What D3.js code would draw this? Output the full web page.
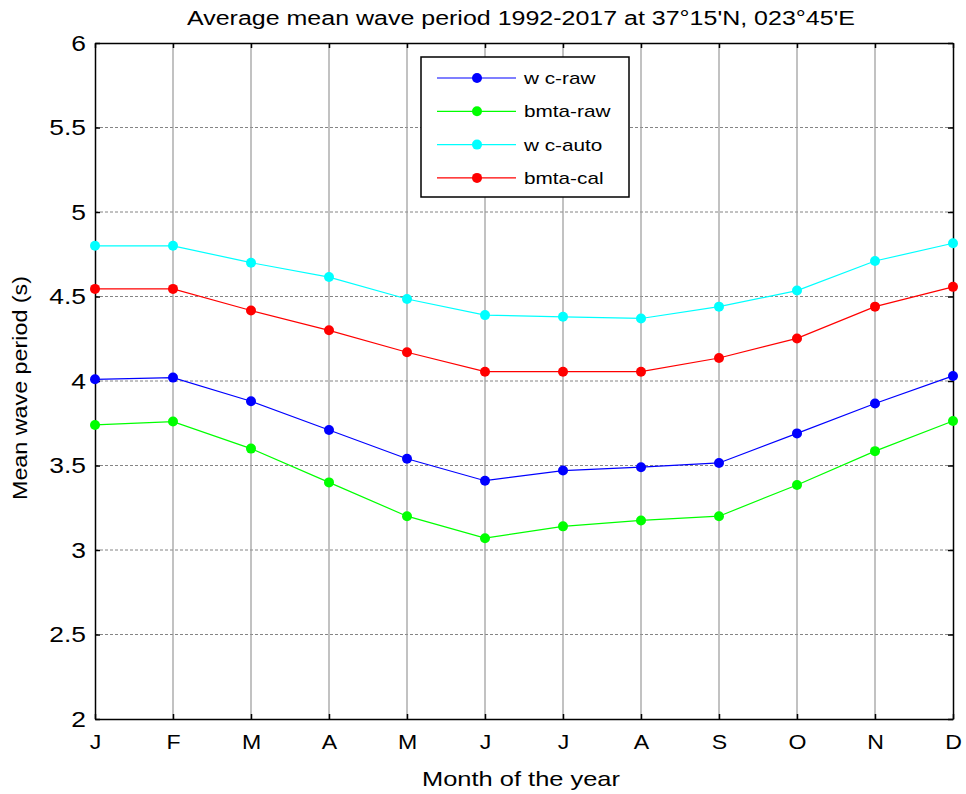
<!DOCTYPE html>
<html lang="en">
<head>
    <meta charset="UTF-8">
    <title>Average mean wave period</title>
    <script src="https://d3js.org/d3.v7.min.js"></script>
    <style>
        body { margin: 0; background: #fff; }
        text { font-family: "Liberation Sans", Arial, sans-serif; fill: #000; }
    </style>
</head>
<body>
    <div id="plot"></div>

    <script>
        // data
        let months = ['J', 'F', 'M', 'A', 'M', 'J', 'J', 'A', 'S', 'O', 'N', 'D'];
        let wcRaw   = [4.01, 4.02, 3.88, 3.71, 3.54, 3.41, 3.47, 3.49, 3.515, 3.69, 3.867, 4.03];
        let bmtaRaw = [3.74, 3.76, 3.60, 3.40, 3.20, 3.07, 3.14, 3.175, 3.20, 3.385, 3.585, 3.763];
        let wcAuto  = [4.80, 4.80, 4.70, 4.615, 4.485, 4.39, 4.38, 4.37, 4.44, 4.535, 4.71, 4.815];
        let bmtaCal = [4.545, 4.545, 4.417, 4.30, 4.17, 4.055, 4.055, 4.055, 4.136, 4.252, 4.44, 4.557];
        let yTicks = [2, 2.5, 3, 3.5, 4, 4.5, 5, 5.5, 6];

        let series = [
            {name: 'w c-raw', values: wcRaw, color: '#0000ff'},
            {name: 'bmta-raw', values: bmtaRaw, color: '#00ff00'},
            {name: 'w c-auto', values: wcAuto, color: '#00ffff'},
            {name: 'bmta-cal', values: bmtaCal, color: '#ff0000'}
        ];

        function translate(x, y){
            return 'translate(' + x + ', ' + y + ')';
        }

        // the original (matlab export) draws its text a bit wider than the font
        function stretch(sel, k){
            sel.each(function(){
                let len = this.getComputedTextLength();
                d3.select(this)
                    .attr('textLength', len * k)
                    .attr('lengthAdjust', 'spacingAndGlyphs');
            });
        }

        let svgWidth = 966, svgHeight = 794;
        let margin = {top: 43, right: 13, bottom: 75, left: 95};
        let width = svgWidth - margin.left - margin.right;
        let height = svgHeight - margin.top - margin.bottom;

        let svg = d3.select('#plot')
                    .append('svg')
                        .attr('width', svgWidth)
                        .attr('height', svgHeight);

        let g = svg.append('g').attr('transform', translate(margin.left, margin.top));

        let x = d3.scalePoint()
                    .domain(d3.range(months.length))
                    .range([0, width]);
        let y = d3.scaleLinear()
                    .domain([2, 6])
                    .range([height, 0]);

        // horizontal grid (dashed)
        g.append('g')
            .selectAll('line')
            .data(yTicks.slice(1, -1))
            .join('line')
                .attr('x1', 0).attr('x2', width)
                .attr('y1', d => y(d)).attr('y2', d => y(d))
                .attr('stroke', '#666')
                .attr('stroke-width', 0.8)
                .attr('stroke-dasharray', '3,2');

        // vertical grid (solid)
        g.append('g')
            .selectAll('line')
            .data(d3.range(1, months.length - 1))
            .join('line')
                .attr('x1', d => x(d)).attr('x2', d => x(d))
                .attr('y1', 0).attr('y2', height)
                .attr('stroke', '#999')
                .attr('stroke-width', 1.2);

        // axes, matlab style: ticks inside, on all four sides
        let xAxis = d3.axisBottom(x).tickFormat(i => months[i]).tickSizeInner(-5).tickSizeOuter(0).tickPadding(15);
        let yAxis = d3.axisLeft(y).tickValues(yTicks).tickFormat(d3.format('')).tickSizeInner(-5).tickSizeOuter(0).tickPadding(9);

        let gx = g.append('g').attr('transform', translate(0, height)).call(xAxis);
        let gy = g.append('g').call(yAxis);
        g.append('g').call(d3.axisTop(x).tickFormat('').tickSizeInner(-5).tickSizeOuter(0));
        g.append('g').attr('transform', translate(width, 0))
            .call(d3.axisRight(y).tickValues(yTicks).tickFormat('').tickSizeInner(-5).tickSizeOuter(0));

        g.selectAll('.domain').attr('stroke', '#000').attr('stroke-width', 1.5);
        g.selectAll('.tick line').attr('stroke', '#000').attr('stroke-width', 1.5);
        gx.selectAll('text').style('font-size', '21px').attr('fill', '#000').call(stretch, 1.1);
        gy.selectAll('text').style('font-size', '22px').attr('fill', '#000').call(stretch, 1.2);

        // series
        let line = d3.line()
                    .x((d, i) => x(i))
                    .y(d => y(d));

        series.forEach(function(s){
            g.append('path')
                .datum(s.values)
                .attr('fill', 'none')
                .attr('stroke', s.color)
                .attr('stroke-width', 1.2)
                .attr('d', line);
            g.selectAll(null)
                .data(s.values)
                .enter()
                .append('circle')
                .attr('r', 5)
                .attr('cx', (d, i) => x(i))
                .attr('cy', d => y(d))
                .attr('fill', s.color);
        });

        // legend
        let legend = svg.append('g').attr('transform', translate(421, 57));
        legend.append('rect')
            .attr('width', 208).attr('height', 140)
            .attr('fill', '#fff')
            .attr('stroke', '#000')
            .attr('stroke-width', 1.5);
        let rows = legend.selectAll('g.row')
            .data(series)
            .enter()
            .append('g')
                .attr('class', 'row')
                .attr('transform', (d, i) => translate(0, 21 + i * 33.3));
        rows.append('line')
            .attr('x1', 16).attr('x2', 95)
            .attr('stroke', d => d.color)
            .attr('stroke-width', 1.2);
        rows.append('circle')
            .attr('cx', 56).attr('r', 5)
            .attr('fill', d => d.color);
        rows.append('text')
            .attr('x', 103).attr('dy', '0.35em')
            .style('font-size', '17px')
            .text(d => d.name)
            .call(stretch, 1.22);

        // title and axis labels
        svg.append('text')
            .attr('x', 521).attr('y', 25)
            .attr('text-anchor', 'middle')
            .style('font-size', '20px')
            .text("Average mean wave period 1992-2017 at 37°15'N, 023°45'E")
            .attr('textLength', 668)
            .attr('lengthAdjust', 'spacingAndGlyphs');

        svg.append('text')
            .attr('x', 521).attr('y', 786)
            .attr('text-anchor', 'middle')
            .style('font-size', '21px')
            .text('Month of the year')
            .attr('textLength', 198)
            .attr('lengthAdjust', 'spacingAndGlyphs');

        svg.append('text')
            .attr('transform', translate(27, 388) + ' rotate(-90)')
            .attr('text-anchor', 'middle')
            .style('font-size', '21px')
            .text('Mean wave period (s)')
            .attr('textLength', 224)
            .attr('lengthAdjust', 'spacingAndGlyphs');
    </script>
</body>
</html>
